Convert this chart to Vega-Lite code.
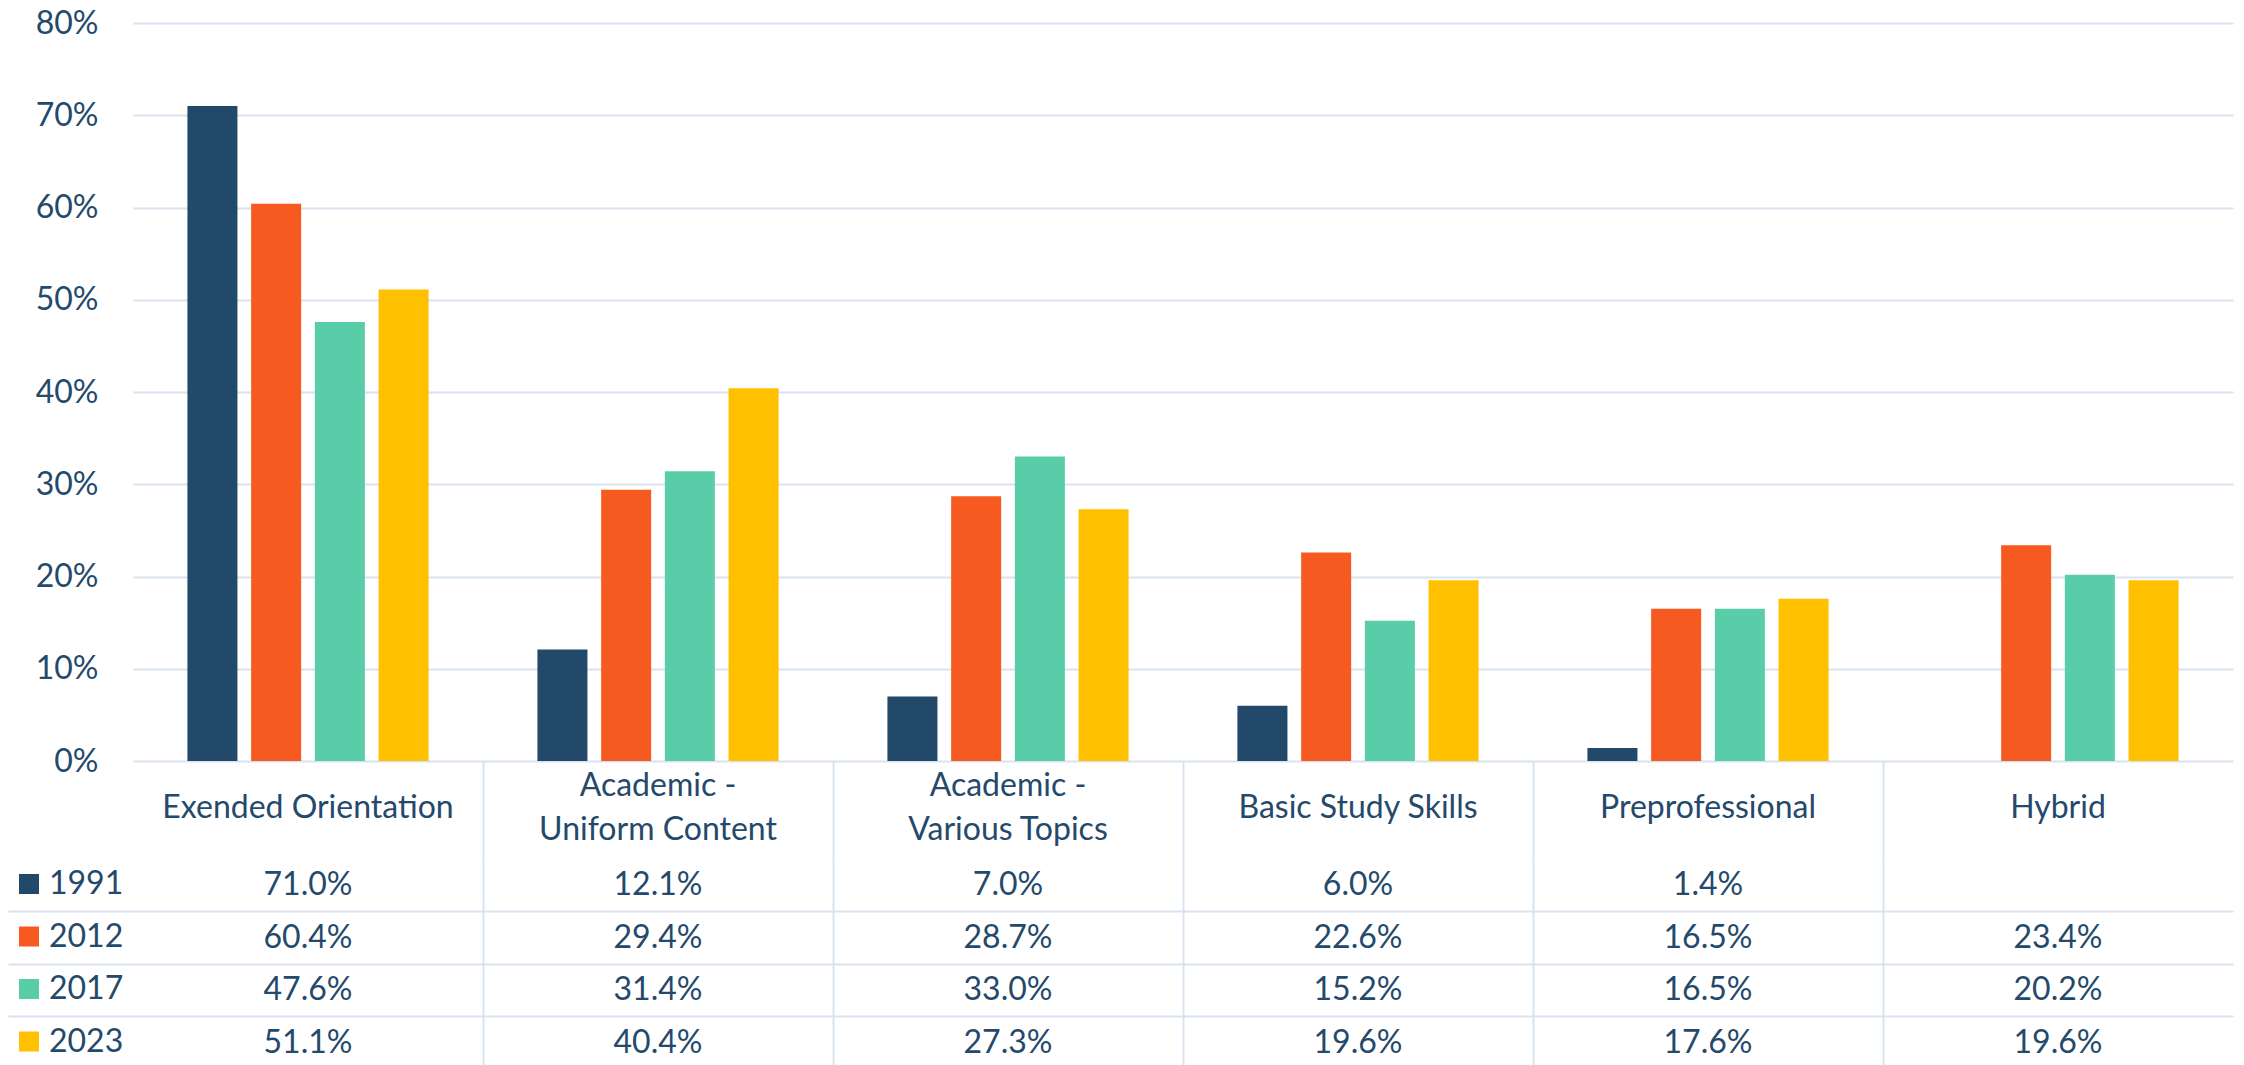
{
  "$schema": "https://vega.github.io/schema/vega-lite/v6.json",
  "padding": {"left": 7, "top": 7, "right": 5, "bottom": 0},
  "background": "white",
  "config": {
    "view": {"stroke": null},
    "font": "Lato",
    "axis": {"labelFont": "Lato"},
    "legend": {"labelFont": "Lato"},
    "text": {"font": "Lato"}
  },
  "data": {
    "values": [
      {"cat": "Exended Orientation", "year": "1991", "value": 0.710},
      {"cat": "Exended Orientation", "year": "2012", "value": 0.604},
      {"cat": "Exended Orientation", "year": "2017", "value": 0.476},
      {"cat": "Exended Orientation", "year": "2023", "value": 0.511},
      {"cat": "Academic - Uniform Content", "year": "1991", "value": 0.121},
      {"cat": "Academic - Uniform Content", "year": "2012", "value": 0.294},
      {"cat": "Academic - Uniform Content", "year": "2017", "value": 0.314},
      {"cat": "Academic - Uniform Content", "year": "2023", "value": 0.404},
      {"cat": "Academic - Various Topics", "year": "1991", "value": 0.070},
      {"cat": "Academic - Various Topics", "year": "2012", "value": 0.287},
      {"cat": "Academic - Various Topics", "year": "2017", "value": 0.330},
      {"cat": "Academic - Various Topics", "year": "2023", "value": 0.273},
      {"cat": "Basic Study Skills", "year": "1991", "value": 0.060},
      {"cat": "Basic Study Skills", "year": "2012", "value": 0.226},
      {"cat": "Basic Study Skills", "year": "2017", "value": 0.152},
      {"cat": "Basic Study Skills", "year": "2023", "value": 0.196},
      {"cat": "Preprofessional", "year": "1991", "value": 0.014},
      {"cat": "Preprofessional", "year": "2012", "value": 0.165},
      {"cat": "Preprofessional", "year": "2017", "value": 0.165},
      {"cat": "Preprofessional", "year": "2023", "value": 0.176},
      {"cat": "Hybrid", "year": "2012", "value": 0.234},
      {"cat": "Hybrid", "year": "2017", "value": 0.202},
      {"cat": "Hybrid", "year": "2023", "value": 0.196}
    ]
  },
  "spacing": 98,
  "bounds": "flush",
  "vconcat": [
    {
      "width": 2100,
      "height": 738,
      "mark": {"type": "bar"},
      "encoding": {
        "x": {
          "field": "cat", "type": "nominal",
          "sort": ["Exended Orientation", "Academic - Uniform Content", "Academic - Various Topics", "Basic Study Skills", "Preprofessional", "Hybrid"],
          "axis": null,
          "scale": {"paddingInner": 0.311, "paddingOuter": 0.1555}
        },
        "xOffset": {
          "field": "year", "type": "nominal",
          "scale": {"paddingInner": 0.215, "paddingOuter": 0}
        },
        "y": {
          "field": "value", "type": "quantitative",
          "scale": {"domain": [0, 0.8], "nice": false},
          "axis": {
            "values": [0, 0.1, 0.2, 0.3, 0.4, 0.5, 0.6, 0.7, 0.8],
            "format": ".0%", "grid": true, "gridColor": "#D7E4F0", "gridWidth": 2,
            "domain": false, "ticks": false, "labelFontSize": 32, "labelColor": "#24496B",
            "labelPadding": 35, "title": null
          }
        },
        "color": {
          "field": "year", "type": "nominal",
          "scale": {"domain": ["1991", "2012", "2017", "2023"], "range": ["#22486A", "#F65A21", "#59CDA8", "#FFC000"]},
          "legend": {
            "orient": "none", "legendX": -120, "legendY": 845, "title": null,
            "symbolType": "square", "symbolSize": 400, "symbolStrokeWidth": 0,
            "labelFontSize": 32, "labelColor": "#24496B", "labelOffset": 4,
            "rowPadding": 20.5, "padding": 0, "direction": "vertical"
          }
        }
      }
    },
    {
      "width": 2100,
      "height": 210,
      "mark": {"type": "text", "fontSize": 32, "color": "#24496B", "baseline": "middle"},
      "encoding": {
        "x": {
          "field": "cat", "type": "nominal",
          "sort": ["Exended Orientation", "Academic - Uniform Content", "Academic - Various Topics", "Basic Study Skills", "Preprofessional", "Hybrid"],
          "scale": {"type": "band", "paddingInner": 0, "paddingOuter": 0},
          "axis": {
            "orient": "top", "title": null, "bandPosition": 0, "domain": false,
            "ticks": true, "tickSize": 98, "tickWidth": 2,
            "tickColor": {"condition": {"test": "datum.value === 'Exended Orientation'", "value": "transparent"}, "value": "#D7E4F0"},
            "grid": true, "gridWidth": 2,
            "gridColor": {"condition": {"test": "datum.value === 'Exended Orientation'", "value": "transparent"}, "value": "#D7E4F0"},
            "labelPadding": {"condition": {"test": "indexof(datum.value, ' - ') >= 0", "value": -24}, "value": -46},
            "labelBaseline": "middle",
            "labelFontSize": 32, "labelColor": "#24496B", "labelAngle": 0,
            "labelExpr": "split(replace(datum.label, ' - ', ' -|'), '|')",
            "labelLineHeight": 44, "labelLimit": 500, "labelOverlap": false
          }
        },
        "y": {
          "field": "year", "type": "nominal",
          "scale": {"type": "band", "paddingInner": 0, "paddingOuter": 0},
          "axis": {
            "orient": "left", "title": null, "bandPosition": 0, "domain": false,
            "labels": false, "ticks": true, "tickSize": 125, "tickWidth": 2,
            "tickColor": {"condition": {"test": "datum.value === '1991'", "value": "transparent"}, "value": "#D7E4F0"},
            "grid": true, "gridWidth": 2,
            "gridColor": {"condition": {"test": "datum.value === '1991'", "value": "transparent"}, "value": "#D7E4F0"}
          }
        },
        "text": {"field": "value", "type": "quantitative", "format": ".1%"}
      }
    }
  ]
}
